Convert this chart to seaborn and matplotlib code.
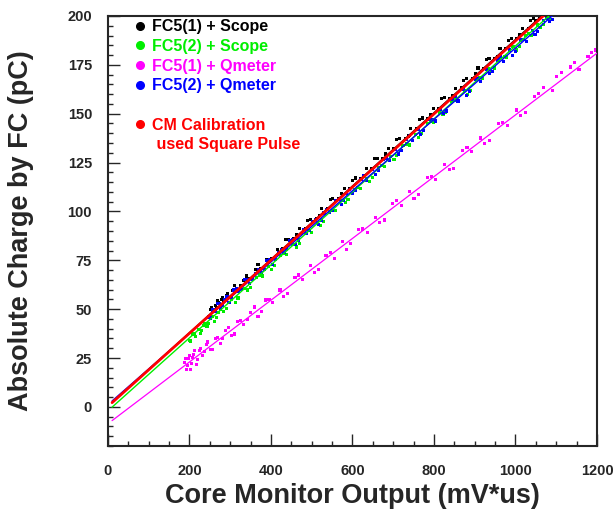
import numpy as np
import pandas as pd
import matplotlib
matplotlib.use("Agg")
import matplotlib.pyplot as plt
from matplotlib.lines import Line2D
from matplotlib.ticker import MultipleLocator
import seaborn as sns

# ---- data ----
fc51_scope_x = [252, 258, 263, 267, 271, 275, 279, 284, 290, 297, 305, 318, 332, 347, 361, 374,
                388, 401, 415, 428, 442, 455, 470, 484, 497, 511, 524, 538, 551, 566, 580, 593,
                607, 620, 634, 648, 661, 675, 689, 702, 716, 730, 743, 757, 771, 784, 798, 812,
                826, 839, 853, 867, 880, 894, 908, 921, 935, 949, 962, 976, 990, 1003, 1017,
                1031, 1044, 1058,
                255, 261, 269, 273, 281, 287, 294, 310, 325, 340, 368, 395, 435, 462, 490, 518,
                545, 573, 600, 627, 655, 682, 709, 737, 764, 791, 819, 846, 873, 901, 928, 955,
                983, 1010, 1037, 1050]
fc51_scope_y = [49.8, 48.9, 52.0, 50.6, 53.5, 52.1, 55.0, 54.0, 56.9, 56.2, 59.4, 60.1, 64.8, 65.5,
                70.3, 71.0, 75.6, 75.8, 80.7, 80.9, 85.8, 86.0, 91.2, 91.3, 96.0, 96.4, 101.3,
                101.5, 106.4, 106.7, 111.6, 111.8, 117.1, 116.6, 121.9, 122.0, 127.0, 127.0,
                132.2, 132.0, 137.5, 137.4, 142.3, 142.6, 147.8, 147.5, 152.6, 152.9, 158.1,
                157.7, 163.0, 163.2, 168.0, 168.1, 173.4, 173.0, 178.2, 178.4, 183.5, 183.3,
                188.6, 188.5, 193.5, 193.8, 198.6, 198.9,
                51.0, 49.8, 54.2, 52.9, 56.0, 54.3, 58.0, 62.1, 61.9, 67.0, 72.8, 74.4, 85.5,
                88.1, 95.3, 97.8, 106.2, 109.2, 116.0, 117.9, 126.9, 129.4, 136.6, 138.6, 147.0,
                149.5, 157.6, 159.2, 167.2, 170.6, 177.7, 179.3, 187.5, 190.7, 197.9, 197.5]

fc52_scope_x = [200, 207, 215, 222, 230, 238, 247, 256, 266, 277, 290, 304, 319, 334, 349, 364,
                379, 394, 409, 424, 439, 454, 469, 484, 499, 514, 529, 544, 559, 574, 589, 604,
                619, 634, 649, 664, 679, 694, 709, 724, 739, 754, 769, 784, 799, 814, 829, 844,
                859, 874, 889, 904, 919, 934, 949, 964, 979, 994, 1009, 1024, 1039, 1054, 1069,
                1084,
                203, 211, 226, 234, 243, 252, 261, 271, 284, 297, 312, 342, 372, 402, 432, 462,
                492, 522, 552, 582, 612, 642, 672, 702, 732, 762, 792, 822, 852, 882, 912, 942,
                972, 1002, 1032, 1062, 1077]
fc52_scope_y = [33.8, 37.0, 36.1, 39.5, 39.0, 42.6, 42.5, 46.3, 45.8, 49.9, 50.3, 55.1, 55.7, 60.6,
                61.2, 66.4, 67.0, 71.8, 72.5, 77.6, 78.0, 83.2, 83.6, 88.9, 89.3, 94.5, 94.8,
                100.0, 100.4, 105.8, 106.1, 111.2, 111.7, 116.9, 117.3, 122.6, 122.9, 128.1,
                128.5, 133.7, 134.0, 139.4, 139.7, 145.0, 145.3, 150.6, 150.9, 156.2, 156.5,
                161.8, 162.1, 167.3, 167.8, 173.0, 173.4, 178.6, 179.0, 184.2, 184.6, 189.8,
                190.2, 195.4, 195.8, 198.8,
                33.7, 37.6, 37.5, 41.6, 41.4, 45.3, 43.9, 48.3, 48.6, 53.5, 53.3, 59.8, 67.5,
                70.4, 78.5, 81.8, 90.1, 92.7, 100.7, 104.4, 112.4, 115.1, 123.5, 126.6, 134.5,
                137.7, 146.2, 149.4, 157.0, 159.9, 168.4, 171.7, 179.3, 182.6, 191.0, 194.2,
                199.1]

fc51_qmeter_x = [188, 193, 198, 204, 210, 217, 225, 233, 242, 252, 263, 275, 288, 302, 317, 333,
                 350, 368, 386, 404, 422, 440, 459, 478, 497, 516, 535, 555, 575, 595, 615, 636,
                 657, 678, 699, 720, 741, 762, 783, 804, 826, 848, 870, 892, 914, 936, 958, 980,
                 1002, 1024, 1046, 1068, 1090, 1112, 1134, 1156, 1178, 1196,
                 190, 195, 200, 202, 207, 212, 220, 228, 236, 245, 256, 268, 281, 295, 310, 325,
                 342, 359, 377, 395, 431, 468, 506, 545, 585, 625, 667, 709, 751, 793, 837, 881,
                 925, 969, 1013, 1057, 1101, 1145, 1187]
fc51_qmeter_y = [22.5, 19.0, 24.6, 22.0, 26.8, 21.6, 28.9, 26.5, 31.8, 29.4, 35.2, 32.6, 39.0, 36.7,
                 43.8, 42.2, 48.5, 46.3, 54.7, 53.4, 59.8, 57.9, 66.0, 65.1, 72.3, 70.4, 77.6,
                 76.0, 84.5, 83.7, 90.8, 89.4, 97.0, 95.6, 104.1, 103.0, 110.3, 108.6, 117.4,
                 116.2, 123.8, 122.1, 131.2, 130.5, 137.6, 136.4, 145.1, 144.0, 151.9, 150.5,
                 158.6, 163.5, 162.0, 171.0, 173.9, 172.5, 179.4, 182.6,
                 24.6, 21.4, 26.5, 19.1, 25.2, 28.9, 24.3, 30.0, 28.3, 33.2, 29.2, 35.6, 35.1,
                 40.8, 37.3, 44.2, 44.5, 51.1, 48.6, 54.8, 56.5, 67.5, 68.6, 79.0, 80.5, 91.0,
                 94.3, 105.8, 106.5, 118.0, 121.4, 132.6, 134.6, 145.4, 149.1, 160.2, 168.9,
                 176.1, 181.5]

fc52_qmeter_x = [248, 256, 264, 273, 282, 292, 303, 315, 328, 341, 355, 369, 383, 397, 411, 425,
                 439, 453, 467, 481, 495, 509, 523, 537, 551, 565, 579, 593, 607, 621, 635, 649,
                 663, 677, 691, 705, 719, 733, 747, 761, 775, 789, 803, 817, 831, 845, 859, 873,
                 887, 901, 915, 929, 943, 957, 971, 985, 999, 1013, 1027, 1041, 1055, 1069, 1083,
                 252, 260, 268, 277, 287, 297, 309, 321, 334, 348, 362, 376, 390, 404, 418, 432,
                 446, 460, 474, 488, 502, 516, 530, 544, 558, 572, 586, 600, 628, 656, 684, 712,
                 740, 768, 796, 824, 852, 880, 908, 936, 964, 992, 1020, 1048, 1076, 1090]
fc52_qmeter_y = [46.0, 49.6, 48.7, 52.9, 52.0, 56.3, 55.8, 60.5, 60.2, 65.1, 65.0, 70.4, 70.3, 75.5,
                 75.2, 80.6, 80.4, 85.7, 85.4, 90.9, 90.3, 96.0, 95.6, 101.0, 100.5, 106.1, 105.7,
                 111.2, 110.7, 116.3, 115.8, 121.4, 120.9, 126.4, 126.0, 131.6, 131.0, 136.7,
                 136.1, 141.8, 141.2, 146.9, 146.3, 152.0, 151.4, 157.1, 156.5, 162.2, 161.5,
                 167.3, 166.6, 172.4, 171.7, 177.5, 176.8, 182.6, 181.9, 187.7, 187.0, 192.8,
                 192.1, 197.8, 197.2,
                 45.5, 49.6, 52.8, 50.5, 55.0, 53.6, 59.8, 59.2, 65.1, 63.0, 68.1, 68.7, 74.9,
                 72.9, 78.8, 79.2, 85.2, 83.2, 88.6, 88.8, 95.0, 93.2, 99.2, 99.3, 105.7, 103.7,
                 109.1, 109.3, 118.2, 118.7, 127.0, 129.4, 138.9, 139.2, 147.0, 149.9, 158.8,
                 159.3, 167.8, 170.7, 179.4, 179.9, 187.9, 190.5, 199.0, 198.1]

series_names = ["FC5(1) + Scope", "FC5(2) + Scope", "FC5(1) + Qmeter", "FC5(2) + Qmeter"]
series_colors = ["black", "#00ee00", "#ff00ff", "blue"]

# straight-line fits (slope, intercept)
fit_names = ["FC5(1) + Scope", "FC5(2) + Scope", "FC5(2) + Qmeter", "FC5(1) + Qmeter", "CM Calibration"]
fit_slope = [0.1875, 0.1867, 0.1824, 0.158, 0.187]
fit_intercept = [0.5, -2.0, 1.2, -8.6, 0.3]
fit_colors = ["black", "#00ee00", "blue", "#ff00ff", "red"]
fit_widths = [1.0, 1.0, 1.0, 0.9, 2.0]
fit_x_range = [10, 1200]

# ---- frames ----
frames = []
for name, xs, ys in zip(series_names,
                        [fc51_scope_x, fc52_scope_x, fc51_qmeter_x, fc52_qmeter_x],
                        [fc51_scope_y, fc52_scope_y, fc51_qmeter_y, fc52_qmeter_y]):
    frames.append(pd.DataFrame({"cm": xs, "fc": ys, "run": name}))
df_pts = pd.concat(frames, ignore_index=True)

sns.set_style("ticks")
plt.rcParams["font.family"] = ["Liberation Sans", "DejaVu Sans"]
plt.rcParams["font.weight"] = "bold"

fig = plt.figure(figsize=(6.15, 5.11), dpi=100)
ax = fig.add_axes([0.1756, 0.1272, 0.7951, 0.8415])

sns.scatterplot(ax=ax, data=df_pts, x="cm", y="fc", hue="run",
                palette=dict(zip(series_names, series_colors)),
                marker="s", s=5, linewidth=0, legend=False, zorder=2)

# fit lines
xl = np.array(fit_x_range, dtype=float)
for slope, icpt, col, lw in zip(fit_slope, fit_intercept, fit_colors, fit_widths):
    sns.lineplot(ax=ax, x=xl, y=slope * xl + icpt, color=col, linewidth=lw, zorder=3)

ax.set_xlim(0, 1200)
ax.set_ylim(-20, 200)
ax.xaxis.set_major_locator(MultipleLocator(200))
ax.xaxis.set_minor_locator(MultipleLocator(50))
ax.yaxis.set_major_locator(MultipleLocator(25))
ax.yaxis.set_minor_locator(MultipleLocator(5))
ax.set_yticks(np.arange(0, 201, 25))

for sp in ax.spines.values():
    sp.set_linewidth(1.5)
    sp.set_visible(True)
ax.tick_params(which="both", direction="in", top=False, right=False, width=1.0)
ax.tick_params(which="major", length=8.6, labelsize=10.5)
ax.tick_params(axis="y", which="major", pad=11.5)
ax.tick_params(axis="x", which="major", pad=13)
ax.tick_params(which="minor", length=3.6)

ax.set_xlabel("Core Monitor Output (mV*us)", fontsize=19.5, fontweight="bold")
ax.set_ylabel("Absolute Charge by FC (pC)", fontsize=19.5, fontweight="bold")
ax.xaxis.set_label_coords(0.5, -0.086)
ax.yaxis.set_label_coords(-0.151, 0.5)

# legend
handles = [Line2D([], [], linestyle="none", marker="o", markersize=5.5,
                  markerfacecolor=c, markeredgecolor=c) for c in series_colors]
handles += [Line2D([], [], linestyle="none"),
            Line2D([], [], linestyle="none", marker="o", markersize=5.5,
                   markerfacecolor="red", markeredgecolor="red"),
            Line2D([], [], linestyle="none")]
labels = series_names + [" ", "CM Calibration", " used Square Pulse"]
label_colors = series_colors + ["white", "red", "red"]
ax.legend(handles, labels, loc="upper left", bbox_to_anchor=(0.045, 1.007),
          frameon=False, handlelength=0.5, handletextpad=0.45, labelspacing=0.29,
          borderaxespad=0, prop={"size": 11.5, "weight": "bold"}, labelcolor=label_colors)

fig.savefig("out.png", dpi=100)
